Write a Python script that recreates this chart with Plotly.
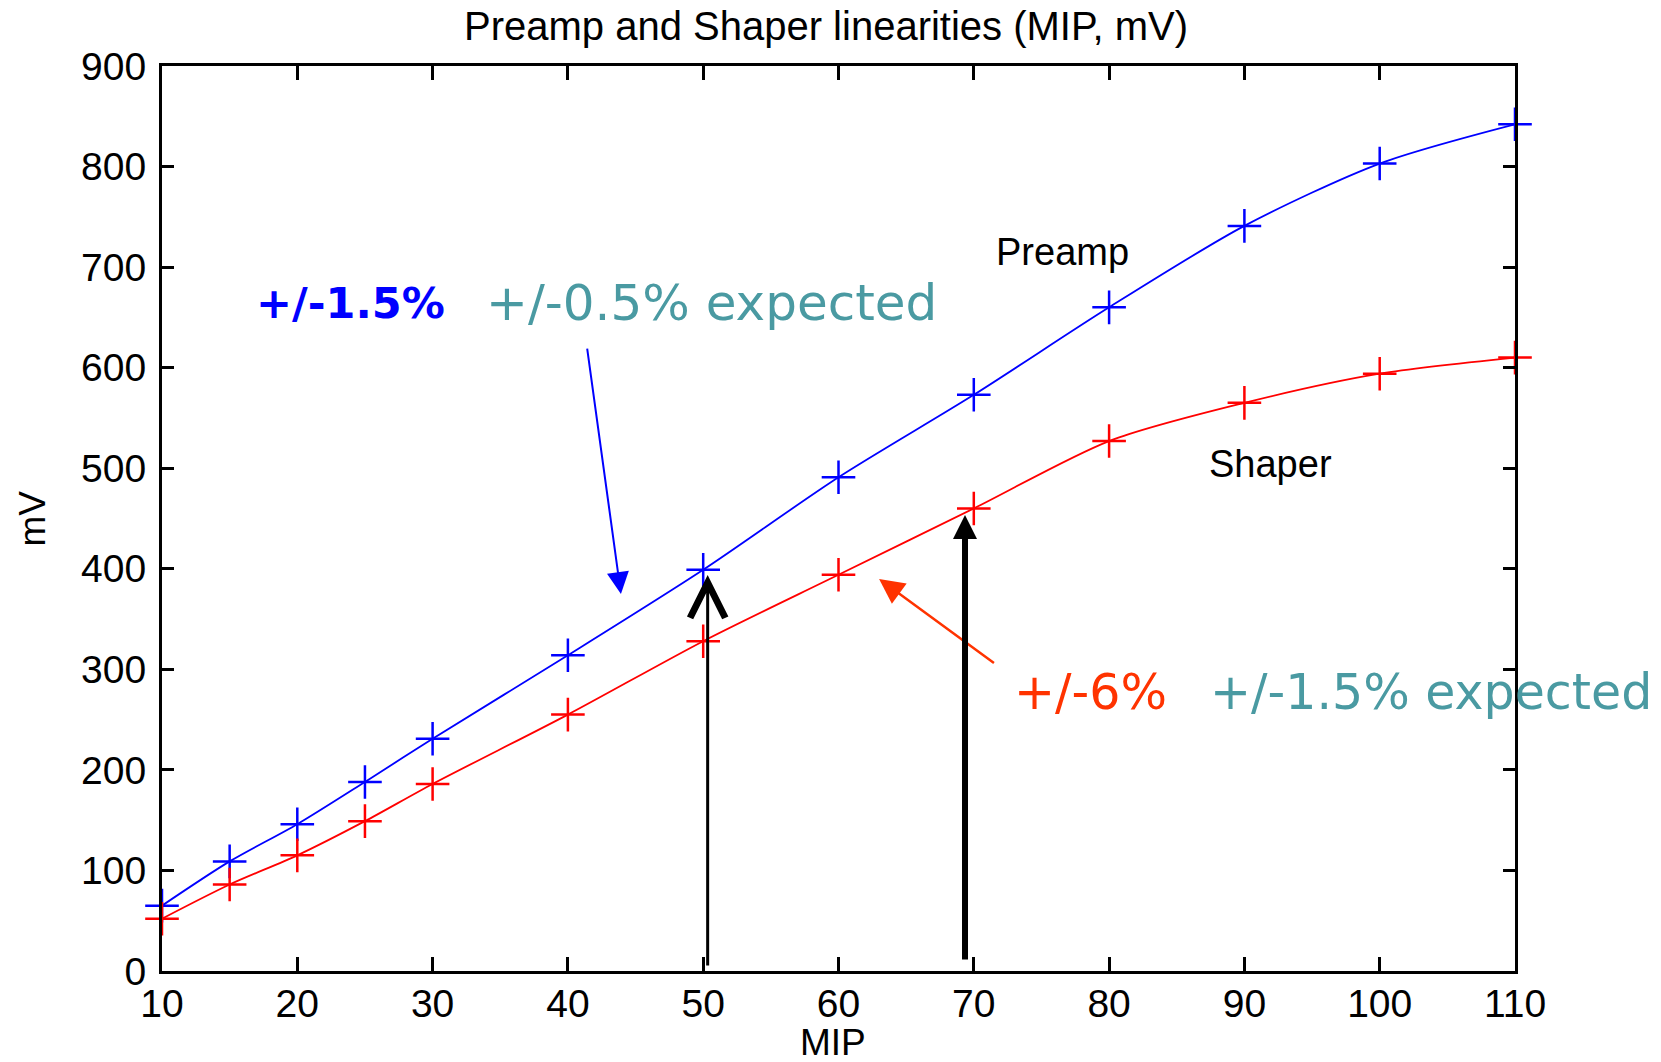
import plotly.graph_objects as go

mip = [10, 15, 20, 25, 30, 40, 50, 60, 70, 80, 90, 100, 110]
preamp_mv = [65, 109, 146, 188, 231, 314, 399, 491, 573, 660, 741, 803, 842]
shaper_mv = [52, 86, 115, 149, 186, 255, 328, 394, 460, 527, 565, 594, 610]

x_ticks = [10, 20, 30, 40, 50, 60, 70, 80, 90, 100, 110]
y_ticks = [0, 100, 200, 300, 400, 500, 600, 700, 800, 900]

title_text = "Preamp and Shaper linearities (MIP, mV)"
x_label = "MIP"
y_label = "mV"

BLUE = "#0000FF"
RED = "#FF0000"
ORANGE = "#FF3300"
TEAL = "#4A9AA2"
AX_FONT = "Liberation Sans, Arial, sans-serif"
HAND_FONT = "DejaVu Sans, sans-serif"

fig = go.Figure()
fig.add_trace(go.Scatter(
    x=mip, y=preamp_mv, mode="lines+markers", name="Preamp",
    line=dict(color=BLUE, width=1.8, shape="spline", smoothing=0.8),
    marker=dict(symbol="cross-thin", size=24, line=dict(color=BLUE, width=2.5)),
    cliponaxis=False,
))
fig.add_trace(go.Scatter(
    x=mip, y=shaper_mv, mode="lines+markers", name="Shaper",
    line=dict(color=RED, width=1.8, shape="spline", smoothing=0.8),
    marker=dict(symbol="cross-thin", size=24, line=dict(color=RED, width=2.5)),
    cliponaxis=False,
))

axis_common = dict(
    showline=True, linecolor="black", linewidth=3, mirror="ticks",
    ticks="inside", tickcolor="black", tickwidth=3,
    showgrid=False, zeroline=False,
    tickfont=dict(family=AX_FONT, size=39, color="black"),
)
fig.update_xaxes(range=[10, 110], tickvals=x_ticks, ticklen=14,
                 ticklabelstandoff=-4, **axis_common)
fig.update_yaxes(range=[0, 900], tickvals=y_ticks, ticklen=12,
                 ticklabelstandoff=5, **axis_common)

ann = []
# title and axis labels
ann.append(dict(text=title_text, xref="paper", yref="paper", x=0.4908, y=1,
                yshift=40, showarrow=False, xanchor="center", yanchor="middle",
                font=dict(family=AX_FONT, size=40, color="black")))
ann.append(dict(text=x_label, xref="paper", yref="paper", x=0.5, y=0,
                yshift=-71, xshift=-6, showarrow=False, xanchor="center", yanchor="middle",
                font=dict(family=AX_FONT, size=37, color="black")))
ann.append(dict(text=y_label, xref="paper", yref="paper", x=0, y=0.5,
                xshift=-130, showarrow=False, xanchor="center", yanchor="middle",
                textangle=-90, font=dict(family=AX_FONT, size=37, color="black")))
# curve labels
ann.append(dict(text="Preamp", x=76.56, y=715, showarrow=False,
                font=dict(family=AX_FONT, size=38, color="black")))
ann.append(dict(text="Shaper", x=91.9, y=504, showarrow=False,
                font=dict(family=AX_FONT, size=38, color="black")))
# linearity texts
ann.append(dict(text="<b>+/-1.5%</b>", x=23.9, y=664, showarrow=False,
                font=dict(family=HAND_FONT, size=43, color=BLUE)))
ann.append(dict(text="+/-0.5% expected", x=50.6, y=664, showarrow=False,
                font=dict(family=HAND_FONT, size=50, color=TEAL)))
ann.append(dict(text="+/-6%", x=78.6, y=277, showarrow=False,
                font=dict(family=HAND_FONT, size=49, color=ORANGE)))
ann.append(dict(text="+/-1.5% expected", x=103.8, y=277, showarrow=False,
                font=dict(family=HAND_FONT, size=49, color=TEAL)))
# arrows
ann.append(dict(text="", x=43.92, y=374.9, ax=41.41, ay=620.5, axref="x", ayref="y",
                showarrow=True, arrowhead=2, arrowsize=2.2, arrowwidth=2, arrowcolor=BLUE))
ann.append(dict(text="", x=63.0, y=389.9, ax=71.6, ay=305.3, axref="x", ayref="y",
                showarrow=True, arrowhead=2, arrowsize=2, arrowwidth=2.5, arrowcolor=ORANGE))
ann.append(dict(text="", x=50.33, y=393.8, ax=50.33, ay=4, axref="x", ayref="y",
                showarrow=True, arrowhead=5, arrowsize=2.3, arrowwidth=3, arrowcolor="black"))
ann.append(dict(text="", x=69.35, y=453.5, ax=69.35, ay=10, axref="x", ayref="y",
                showarrow=True, arrowhead=2, arrowsize=0.8, arrowwidth=6, arrowcolor="black"))

fig.update_layout(
    width=1661, height=1062,
    margin=dict(l=162, r=146, t=66, b=91),
    plot_bgcolor="white", paper_bgcolor="white",
    showlegend=False,
    annotations=ann,
)

fig.write_html("out.html")
